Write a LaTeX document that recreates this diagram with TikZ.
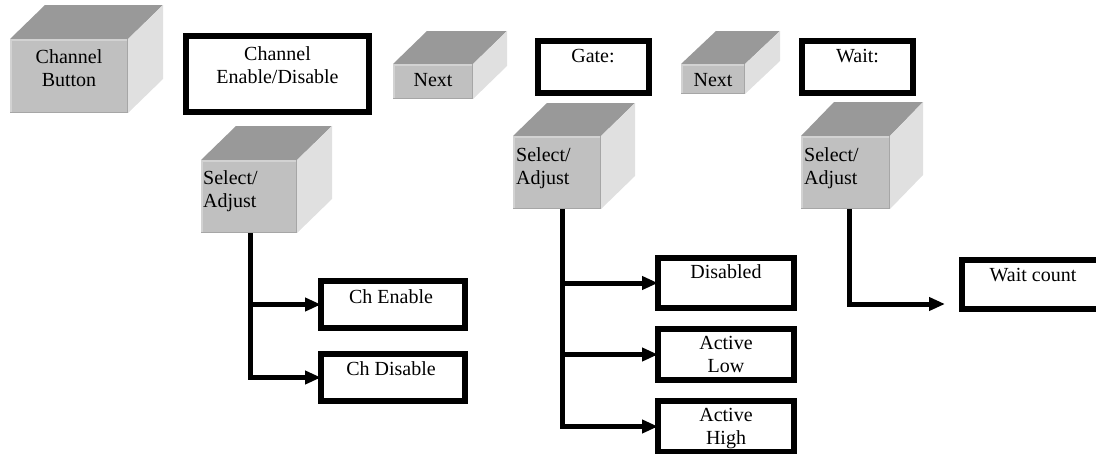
\documentclass[tikz,border=0pt]{standalone}
\usepackage{fontspec}
\setmainfont{Liberation Serif}
\usetikzlibrary{arrows.meta,calc}
\definecolor{cubefront}{HTML}{C0C0C0}
\definecolor{cubetop}{HTML}{999999}
\definecolor{cuberight}{HTML}{E0E0E0}
\definecolor{bevlight}{HTML}{D2D2D2}
\definecolor{bevdark}{HTML}{A6A6A6}
\newcommand\drawcube[7]{%
  \node[face, minimum width=#4pt, minimum height=#5pt] (#1) at (#2,#3) {};
  \fill[cubetop] (#1.north west) -- ++(#6,-#7) -- ($(#1.north east)+(#6,-#7)$) -- (#1.north east) -- cycle;
  \fill[cuberight] (#1.north east) -- ++(#6,-#7) -- ($(#1.south east)+(#6,-#7)$) -- (#1.south east) -- cycle;
  \draw[bevlight, line width=1.5pt] ($(#1.south west)+(0.75,0)$) -- ($(#1.north west)+(0.75,0.75)$) -- ($(#1.north east)+(0,0.75)$);
  \draw[bevdark, line width=1.5pt] ($(#1.north east)+(-0.75,0)$) -- ($(#1.south east)+(-0.75,-0.75)$) -- ($(#1.south west)+(0,-0.75)$);
}
\begin{document}
\begin{tikzpicture}[x=1pt,y=-1pt,
  face/.style={fill=cubefront, inner sep=0pt, outer sep=0pt, anchor=north west},
  box/.style={draw=black, line width=6pt, fill=white, inner sep=0pt, outer sep=0pt},
  txt/.style={font=\fontsize{20}{23.5}\selectfont, inner sep=0pt, align=center, anchor=north},
  ltxt/.style={font=\fontsize{20}{23}\selectfont, inner sep=0pt, align=left, anchor=north west},
  conn/.style={line width=5pt, -{Triangle[length=16pt,width=13pt]}}]
\useasboundingbox (0,0) rectangle (1096,453);
\clip (0,0) rectangle (1096,453);

% cubes (buttons)
\drawcube{cb}{10}{39}{118}{74}{35}{34}
\drawcube{nxa}{393}{64}{80}{35}{34}{33}
\drawcube{nxb}{681}{64}{64}{30}{35}{33}
\drawcube{sa1}{201}{160}{96}{73}{35}{34}
\drawcube{sa2}{513}{136}{88}{73}{34}{33}
\drawcube{sa3}{801}{136}{89}{73}{33}{34}

% boxes
\node[box, minimum width=183pt, minimum height=76pt] (ced) at (277.5,74) {};
\node[box, minimum width=111pt, minimum height=52pt] (gate) at (593.5,67) {};
\node[box, minimum width=111pt, minimum height=52pt] (wait) at (857.5,67) {};
\node[box, minimum width=144pt, minimum height=47pt] (che) at (393,304.5) {};
\node[box, minimum width=144pt, minimum height=47pt] (chd) at (393,377.5) {};
\node[box, minimum width=136pt, minimum height=50pt] (dis) at (726,283) {};
\node[box, minimum width=136pt, minimum height=51pt] (alow) at (726,354.5) {};
\node[box, minimum width=136pt, minimum height=51pt] (ahigh) at (726,426.5) {};
\node[box, minimum width=142pt, minimum height=49pt] (wc) at (1033,284.5) {};

% texts
\node[txt] (tcb) at (69,49) {Channel\\Button};
\node[txt] (tced) at (277.5,46) {Channel\\Enable/Disable};
\node[txt] (tnxa) at (433,73) {Next};
\node[txt] (tgate) at (593,49) {Gate:};
\node[txt] (tnxb) at (713,73) {Next};
\node[txt] (twait) at (857.5,49) {Wait:};
\node[ltxt] (tsa1) at (203,170) {Select/\\Adjust};
\node[ltxt] (tsa2) at (516,147) {Select/\\Adjust};
\node[ltxt] (tsa3) at (804,147) {Select/\\Adjust};
\node[txt] (tche) at (391,289) {Ch Enable};
\node[txt] (tchd) at (391,361) {Ch Disable};
\node[txt] (tdis) at (726,264) {Disabled};
\node[txt] (talow) at (726,336) {Active\\Low};
\node[txt] (tahigh) at (726,408) {Active\\High};
\node[txt] (twc) at (1033,268) {Wait count};

% connectors
\coordinate (sa1o) at ($(sa1.south)+(1,0)$);
\coordinate (sa2o) at ($(sa2.south)+(5,0)$);
\coordinate (sa3o) at ($(sa3.south)+(3.5,0)$);
\coordinate (wcend) at (945,304);
\draw[conn] (sa1o) |- (che.west);
\draw[conn] (sa1o) |- (chd.west);
\draw[conn] (sa2o) |- (dis.west);
\draw[conn] (sa2o) |- (alow.west);
\draw[conn] (sa2o) |- (ahigh.west);
\draw[conn] (sa3o) |- (wcend);
\end{tikzpicture}
\end{document}
